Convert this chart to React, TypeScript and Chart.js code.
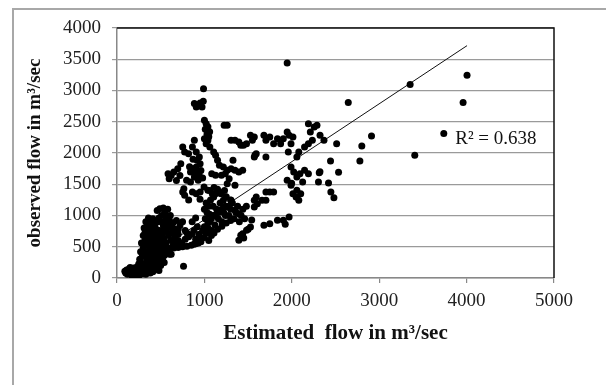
import { useEffect, useRef } from "react";
import { Chart, registerables } from "chart.js";

Chart.register(...registerables);

// Estimated flow (m³/sec) — x values
const estimatedFlow = [
  90, 100, 110, 120, 130, 140, 150, 160, 170, 180,
  190, 200, 210, 220, 230, 240, 250, 260, 270, 280,
  290, 300, 310, 320, 330, 340, 350, 360, 370, 380,
  390, 400, 410, 420, 440, 460, 480, 500, 150, 250,
  260, 270, 280, 290, 300, 300, 310, 320, 320, 330,
  340, 340, 350, 350, 360, 360, 370, 370, 380, 380,
  390, 390, 400, 400, 410, 410, 420, 420, 430, 430,
  440, 450, 450, 460, 460, 470, 480, 490, 490, 500,
  510, 520, 530, 530, 540, 550, 560, 570, 580, 590,
  600, 610, 620, 640, 660, 680, 700, 720, 750, 780,
  420, 450, 480, 500, 520, 550, 580, 600, 650, 700,
  750, 761, 800, 850, 880, 900, 930, 960, 540, 620,
  320, 340, 360, 380, 400, 420, 440, 460, 480, 500,
  520, 540, 560, 580, 600, 620, 640, 660, 680, 700,
  300, 320, 340, 360, 380, 400, 420, 440, 460, 480,
  500, 520, 540, 560, 580, 600, 620, 640, 660, 700,
  740, 780, 820, 860, 900, 940, 980, 1000, 1040, 1080,
  1120, 1160, 1200, 1240, 1280, 1300, 960, 1020, 1060, 1100,
  880, 920, 860, 900, 800,
  584, 597, 620, 650, 695, 730, 752, 774, 819, 752,
  765, 774, 796, 841, 841, 863, 885, 907, 916, 929,
  951, 863, 907, 885, 863, 907, 942, 951, 996, 1040,
  680, 720, 830, 870, 900, 940, 960, 980, 820, 950,
  885, 907, 951, 973, 987, 990, 1000, 1020, 1040, 1010,
  1060, 1030, 1050, 1000, 1040, 1020, 1062, 1226, 1261, 1305,
  1350, 1394, 1416, 1447,
  1106, 1128, 1150, 1172, 1217, 1261, 1195, 1239, 1305, 1350,
  1394, 1438, 1327, 1084, 1128, 1283, 1261, 1350, 1128, 1172,
  1106, 1217, 1261, 1305, 1350, 1394, 1000, 1020, 1040, 1060,
  1080, 1100, 1120, 1140, 1160, 1180, 1200, 1220, 1240, 1280,
  1300, 1320, 1340, 1360, 1380, 1400, 1420, 1440, 1460, 1480,
  1010, 1030, 1050, 1070, 1090, 1110, 1150, 1190, 1230, 1250,
  1050, 1080, 1110, 1150, 1200, 1250, 1300, 1000, 1020, 1060,
  1394, 1416, 1438, 1482, 1527, 1450, 1500, 1571,
  1527, 1549, 1571, 1482, 1681, 1704, 1748, 1792, 1704, 1571,
  1593, 1836, 1872, 1903, 1947, 1969, 1991, 2013, 2058, 2080,
  1960, 2146, 2190, 2235, 2190, 2257, 2288, 2212, 2368, 1991,
  2022, 2058, 2093, 2124, 2146, 2190, 1947, 1991, 1704, 1748,
  1792, 1659, 1704, 1593, 1571, 1606, 2013, 2049, 2080, 2102,
  2058, 1681, 1748, 1836, 1925, 1903, 1969, 1579, 1998, 1541,
  1947, 4005, 3960, 2646, 3354, 3739, 3407, 2912, 2801, 2779,
  2535, 2513, 2443, 2323, 2314, 2305, 2420, 2447, 2482, 2322,
];

// Observed flow (m³/sec) — y values, same order
const observedFlow = [
  110, 80, 130, 60, 100, 150, 70, 120, 40, 90,
  160, 60, 120, 30, 180, 90, 140, 50, 200, 110,
  160, 70, 230, 130, 60, 190, 100, 250, 150, 80,
  210, 130, 100, 180, 150, 220, 120, 200, 170, 230,
  300, 420, 560, 350, 680, 480, 800, 380, 600, 900,
  520, 740, 300, 850, 640, 960, 420, 760, 560, 900,
  330, 680, 800, 470, 950, 600, 380, 720, 860, 520,
  640, 300, 780, 1080, 480, 900, 620, 1110, 760, 560,
  1000, 700, 1120, 840, 620, 1060, 760, 900, 1100, 680,
  820, 1000, 720, 880, 780, 920, 700, 840, 900, 760,
  280, 400, 350, 430, 300, 450, 400, 470, 480, 490,
  500, 187, 510, 525, 540, 550, 560, 580, 250, 380,
  180, 280, 150, 330, 240, 480, 360, 260, 540, 380,
  480, 360, 560, 480, 380, 600, 520, 640, 560, 600,
  560, 720, 420, 820, 460, 640, 560, 880, 700, 960,
  700, 900, 760, 980, 820, 920, 860, 760, 700, 780,
  560, 620, 660, 700, 620, 700, 760, 820, 880, 950,
  1000, 1050, 1100, 1000, 1150, 1250, 640, 740, 1020, 1150,
  760, 820, 900, 960, 720,
  1670, 1590, 1644, 1697, 1750, 1830, 2097, 2017, 1990, 1377,
  1430, 1323, 1563, 1697, 1537, 1750, 1617, 1777, 1884, 1563,
  1830, 1377, 1350, 2204, 2097, 2017, 1937, 1377, 1457, 1403,
  1560, 1640, 1780, 1900, 1700, 1650, 1720, 1600, 1250, 1260,
  2791, 2737, 2801, 2737, 2828, 3030, 2524, 2470, 2420, 2380,
  2340, 2300, 2260, 2230, 2200, 2150, 2097, 2444, 2444, 2204,
  2204, 2177, 2124, 2124,
  2017, 1964, 1884, 1804, 1777, 1724, 1644, 1670, 1750, 1724,
  1697, 1724, 1884, 1670, 1644, 1590, 1510, 1484, 1350, 1377,
  1297, 1243, 1137, 1243, 1083, 1030, 650, 720, 800, 900,
  760, 1000, 850, 1100, 950, 1200, 900, 1050, 1150, 1000,
  1100, 1200, 950, 1050, 1150, 900, 1000, 1100, 950, 1150,
  950, 1050, 1150, 1250, 1350, 1450, 1420, 1350, 1400, 1300,
  600, 680, 720, 780, 830, 880, 920, 1100, 1200, 1400,
  603, 683, 710, 763, 816, 640, 780, 1137,
  2284, 2204, 2257, 2150, 2284, 2204, 2257, 2150, 1937, 1937,
  1990, 2230, 2150, 2230, 2337, 2284, 2150, 2257, 1937, 2017,
  2017, 2097, 2150, 2204, 2470, 2417, 2444, 2337, 2204, 1777,
  1697, 1617, 1670, 1537, 1724, 1670, 1563, 1484, 1377, 1377,
  1377, 1243, 1243, 1297, 1243, 1190, 1350, 1297, 1243, 1350,
  1403, 843, 870, 923, 859, 923, 977, 1968, 1515, 928,
  3442, 3244, 2807, 2807, 3095, 2311, 1964, 2273, 2113, 1873,
  1692, 2150, 1873, 2284, 1686, 1537, 1521, 1377, 1286, 1701,
];

const xTickValues = [0, 1000, 2000, 3000, 4000, 5000];
const yTickValues = [0, 500, 1000, 1500, 2000, 2500, 3000, 3500, 4000];

// Linear trendline
const TREND_SLOPE = 0.926;
const TREND_INTERCEPT = 9;
const R2_TEXT = "R² = 0.638";
const R2_LABEL_AT = { x: 3870, y: 2225 };

const X_TITLE = "Estimated  flow in m³/sec";
const Y_TITLE = "observed flow in m³/sec";

const SERIF = "'Liberation Serif', 'Times New Roman', serif";

export default function App() {
  const ref = useRef<HTMLCanvasElement | null>(null);

  useEffect(() => {
    const canvas = ref.current;
    if (!canvas) return;
    const points = estimatedFlow.map((x, i) => ({ x, y: observedFlow[i] }));
    const xMin = Math.min(...estimatedFlow);
    const xMax = Math.max(...estimatedFlow);
    const trend = [
      { x: xMin, y: TREND_SLOPE * xMin + TREND_INTERCEPT },
      { x: xMax, y: TREND_SLOPE * xMax + TREND_INTERCEPT },
    ];

    const framePlugin = {
      id: "frame",
      afterDraw(chart: any) {
        const { ctx, chartArea: a, scales } = chart;
        ctx.save();
        ctx.strokeStyle = "#111";
        ctx.lineWidth = 1.5;
        ctx.beginPath();
        ctx.moveTo(a.left, a.top);
        ctx.lineTo(a.right, a.top);
        ctx.lineTo(a.right, a.bottom);
        ctx.stroke();
        ctx.fillStyle = "#111";
        ctx.font = `19px ${SERIF}`;
        ctx.textAlign = "left";
        ctx.textBaseline = "middle";
        ctx.fillText(
          R2_TEXT,
          scales.x.getPixelForValue(R2_LABEL_AT.x),
          scales.y.getPixelForValue(R2_LABEL_AT.y)
        );
        ctx.restore();
      },
    };

    const tickFont = { family: SERIF, size: 19 };
    const plainTick = (v: any) => String(v);

    const chart = new Chart(canvas, {
      type: "scatter",
      data: {
        datasets: [
          {
            data: points,
            pointRadius: 3.5,
            pointHoverRadius: 3.5,
            backgroundColor: "#000",
            borderWidth: 0,
          },
          {
            type: "line",
            data: trend,
            borderColor: "#111",
            borderWidth: 1,
            pointRadius: 0,
            fill: false,
            tension: 0,
          } as any,
        ],
      },
      options: {
        responsive: false,
        animation: false,
        events: [],
        layout: { padding: { left: 0, top: 28, right: 52, bottom: 0 } },
        plugins: {
          legend: { display: false },
          tooltip: { enabled: false },
        },
        scales: {
          x: {
            type: "linear",
            min: 0,
            max: 5000,
            afterBuildTicks: (s: any) => {
              s.ticks = xTickValues.map((v) => ({ value: v }));
            },
            afterFit: (s: any) => {
              s.height = 107;
            },
            ticks: { font: tickFont, color: "#222", padding: 7, maxRotation: 0, callback: plainTick },
            grid: {
              drawOnChartArea: false,
              drawTicks: true,
              tickLength: 5,
              color: "#888",
              lineWidth: 1.2,
            },
            border: { display: true, color: "#888", width: 1.5 },
            title: {
              display: true,
              text: X_TITLE,
              font: { family: SERIF, size: 21, weight: "bold" },
              color: "#111",
              padding: { top: 0, bottom: 39 },
            },
          },
          y: {
            type: "linear",
            min: 0,
            max: 4000,
            afterBuildTicks: (s: any) => {
              s.ticks = yTickValues.map((v) => ({ value: v }));
            },
            afterFit: (s: any) => {
              s.width = 117;
            },
            ticks: { font: tickFont, color: "#222", padding: 11, callback: plainTick },
            grid: {
              drawOnChartArea: true,
              drawTicks: true,
              tickLength: 5,
              color: "#9a9a9a",
              lineWidth: 1.2,
            },
            border: { display: true, color: "#888", width: 1.5 },
            title: {
              display: true,
              text: Y_TITLE,
              font: { family: SERIF, size: 19, weight: "bold" },
              color: "#111",
              padding: { top: 24, bottom: 0 },
            },
          },
        },
      },
      plugins: [framePlugin],
    });

    return () => chart.destroy();
  }, []);

  return (
    <div
      style={{
        position: "fixed",
        left: 0,
        top: 0,
        width: 606,
        height: 385,
        overflow: "hidden",
        background: "#fff",
      }}
    >
      <div
        style={{
          position: "absolute",
          left: 12,
          top: 8,
          width: 700,
          height: 500,
          border: "2px solid #a8a8a8",
        }}
      />
      <canvas
        ref={ref}
        width={606}
        height={385}
        style={{ position: "absolute", left: 0, top: 0, display: "block" }}
      />
    </div>
  );
}
